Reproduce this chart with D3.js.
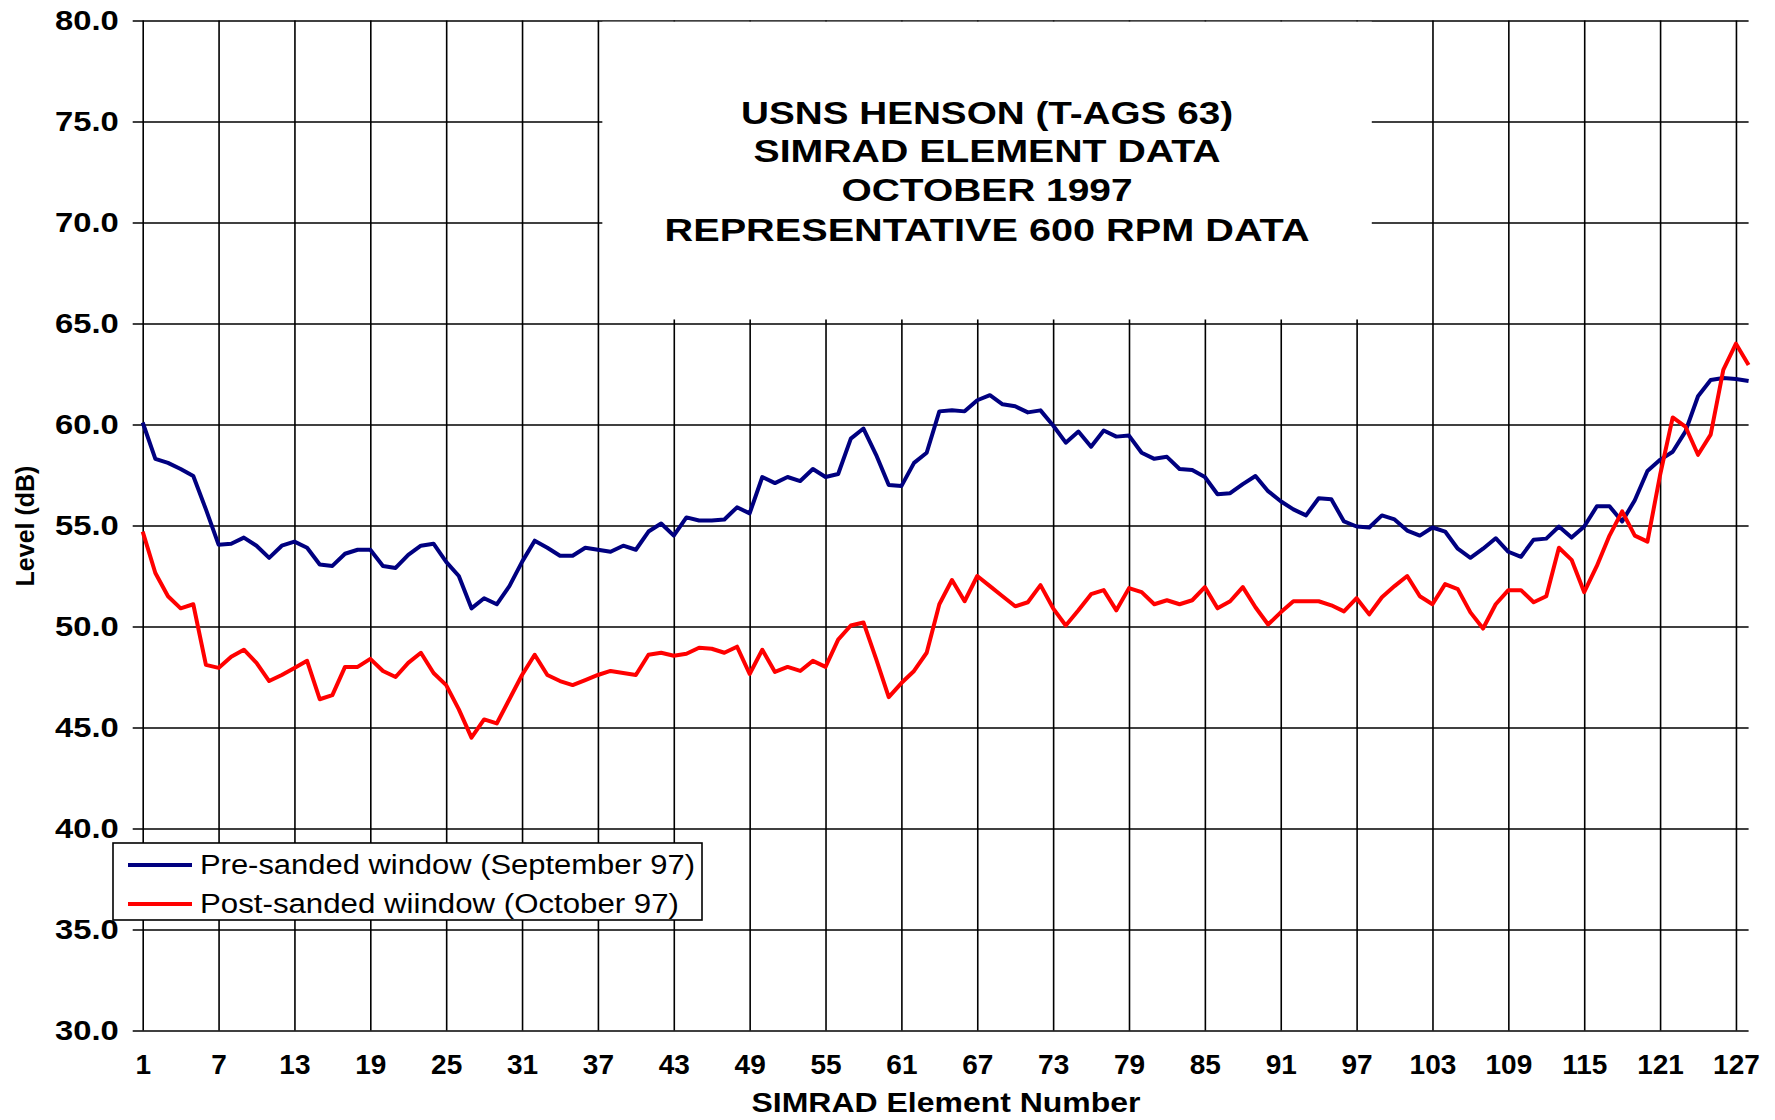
<!DOCTYPE html>
<html><head><meta charset="utf-8">
<script src="https://cdn.jsdelivr.net/npm/d3@7/dist/d3.min.js"></script>
<style>
body{margin:0;background:#fff}
svg{display:block}
text{font-family:"Liberation Sans",Arial,sans-serif;fill:#000}
</style>
</head><body>
<svg id="chart" width="1775" height="1120"></svg>
<script>
// ---- data ----
const elements = d3.range(1, 129);
const preSanded = [
60.1,58.3,58.1,57.8,57.45,55.8,54.05,54.1,54.4,54.0,
53.4,54.0,54.2,53.9,53.07,53.0,53.6,53.8,53.8,53.0,
52.9,53.55,54.0,54.1,53.2,52.5,50.9,51.4,51.1,52.0,
53.2,54.25,53.9,53.5,53.5,53.9,53.8,53.7,54.0,53.8,
54.7,55.1,54.5,55.4,55.25,55.25,55.3,55.9,55.6,57.4,
57.1,57.4,57.2,57.8,57.4,57.55,59.3,59.8,58.5,57.0,
56.95,58.1,58.6,60.65,60.7,60.65,61.2,61.45,61.0,60.9,
60.6,60.7,59.95,59.1,59.65,58.9,59.7,59.4,59.45,58.6,
58.3,58.4,57.8,57.75,57.4,56.55,56.6,57.05,57.45,56.7,
56.2,55.8,55.5,56.35,56.3,55.2,54.95,54.9,55.5,55.3,
54.75,54.5,54.9,54.7,53.85,53.4,53.85,54.37,53.7,53.45,
54.3,54.35,54.95,54.4,54.95,55.95,55.95,55.2,56.25,57.7,
58.25,58.65,59.65,61.4,62.2,62.3,62.25,62.15
];
const postSanded = [
54.7,52.65,51.5,50.9,51.1,48.1,47.95,48.5,48.85,48.2,
47.3,47.6,47.95,48.3,46.4,46.6,48.0,48.0,48.4,47.8,
47.5,48.2,48.7,47.7,47.1,45.9,44.5,45.4,45.2,46.4,
47.6,48.6,47.6,47.3,47.1,47.35,47.6,47.8,47.7,47.6,
48.6,48.7,48.55,48.65,48.95,48.9,48.7,49.0,47.65,48.85,
47.75,48.0,47.8,48.3,48.0,49.35,50.05,50.2,48.4,46.5,
47.2,47.8,48.7,51.1,52.3,51.25,52.5,52.0,51.5,51.0,
51.2,52.05,50.9,50.05,50.8,51.6,51.8,50.8,51.9,51.7,
51.1,51.3,51.1,51.3,51.95,50.9,51.25,51.95,50.95,50.1,
50.7,51.25,51.25,51.25,51.05,50.75,51.4,50.6,51.45,52.0,
52.5,51.5,51.1,52.1,51.85,50.7,49.9,51.1,51.8,51.8,
51.2,51.5,53.9,53.3,51.7,53.0,54.5,55.7,54.5,54.2,
57.5,60.35,59.9,58.5,59.5,62.7,64.0,62.95
];
const yTicks = [30,35,40,45,50,55,60,65,70,75,80];
const xTicks = [1,7,13,19,25,31,37,43,49,55,61,67,73,79,85,91,97,103,109,115,121,127];
const titleLines = ["USNS HENSON (T-AGS 63)","SIMRAD ELEMENT DATA","OCTOBER 1997","REPRESENTATIVE 600 RPM DATA"];
const seriesNames = ["Pre-sanded window (September 97)","Post-sanded wiindow (October 97)"];
const seriesColors = ["#000080","#ff0000"];
const xTitle = "SIMRAD Element Number";
const yTitle = "Level (dB)";

// ---- layout ----
const svg = d3.select("#chart");
const x0 = 142.7, x1 = 1748.6, yTop = 20.5, yBot = 1030.5;
const x = d3.scaleLinear().domain([1,128]).range([x0,x1]);
const y = d3.scaleLinear().domain([30,80]).range([yBot,yTop]);

function fit(sel, target){ sel.attr("textLength", target).attr("lengthAdjust","spacingAndGlyphs"); }
function stretch(sel, k){ sel.each(function(){ const w=this.getComputedTextLength(); this.setAttribute("textLength", w*k); this.setAttribute("lengthAdjust","spacingAndGlyphs"); }); }

// horizontal gridlines + y labels
const gy = svg.append("g").attr("transform",`translate(${x1},0)`)
  .call(d3.axisLeft(y).tickValues(yTicks).tickSize(x1-x0+10).tickSizeOuter(0).tickPadding(14).tickFormat(d3.format(".1f")));
gy.select(".domain").remove();
gy.selectAll(".tick line").attr("stroke","#000").attr("stroke-width",1.6);
gy.selectAll(".tick text").attr("font-size",28).attr("font-weight","bold").attr("font-family","Liberation Sans, Arial, sans-serif");
stretch(gy.selectAll(".tick text"),1.17);

// vertical gridlines + x labels
const gx = svg.append("g").attr("transform",`translate(0,${yBot})`)
  .call(d3.axisBottom(x).tickValues(xTicks).tickSize(-(yBot-yTop)).tickSizeOuter(0).tickPadding(24).tickFormat(d3.format("d")));
gx.select(".domain").remove();
gx.selectAll(".tick line").attr("stroke","#000").attr("stroke-width",1.6);
gx.selectAll(".tick text").attr("font-size",28).attr("font-weight","bold").attr("font-family","Liberation Sans, Arial, sans-serif");

// title box (white background hides gridlines)
const bx0 = x(37.35), bx1 = x(98.2);
svg.append("rect").attr("x",bx0).attr("y",y(80)+1.2).attr("width",bx1-bx0).attr("height",y(65.2)-y(80)-1.2).attr("fill","#fff");
const titleW = [492,467,291,645];
const titleY = [124,162,201,241];
svg.append("g").selectAll("text").data(titleLines).join("text")
  .attr("x",(bx0+bx1)/2).attr("y",(d,i)=>titleY[i]).attr("text-anchor","middle")
  .attr("font-size",31).attr("font-weight","bold").text(d=>d)
  .each(function(d,i){ fit(d3.select(this), titleW[i]); });

// lines
const line = d3.line().x((d,i)=>x(elements[i])).y(d=>y(d));
[preSanded, postSanded].forEach((s,k)=>{
  svg.append("path").datum(s).attr("d",line).attr("fill","none")
    .attr("stroke",seriesColors[k]).attr("stroke-width",4).attr("stroke-linejoin","round");
});

// legend
const lg = svg.append("g");
lg.append("rect").attr("x",113).attr("y",843).attr("width",589).attr("height",77)
  .attr("fill","#fff").attr("stroke","#000").attr("stroke-width",1.6);
const legW = [495,479];
const legY = [864,903];
seriesNames.forEach((n,i)=>{
  lg.append("line").attr("x1",128).attr("x2",192).attr("y1",legY[i]+1).attr("y2",legY[i]+1)
    .attr("stroke",seriesColors[i]).attr("stroke-width",4);
  const t = lg.append("text").attr("x",200).attr("y",legY[i]).attr("dy","0.36em")
    .attr("font-size",27).text(n);
  fit(t, legW[i]);
});

// axis titles
const xt = svg.append("text").attr("x",946).attr("y",1112).attr("text-anchor","middle")
  .attr("font-size",28).attr("font-weight","bold").text(xTitle);
fit(xt,389);
svg.append("text").attr("transform","translate(34,526) rotate(-90)").attr("text-anchor","middle")
  .attr("font-size",25).attr("font-weight","bold").text(yTitle);
</script>
</body></html>
